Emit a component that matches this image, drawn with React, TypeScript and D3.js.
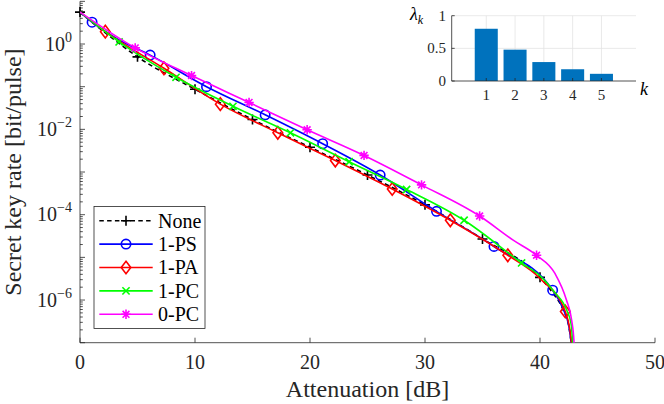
import React from 'react';
import * as d3 from 'd3';

const WIDTH = 664;
const HEIGHT = 404;
const FONT = '"Liberation Serif", "Times New Roman", serif';

// main axes box (pixels)
const M = { l: 80, r: 655, t: 1.35, b: 342.7 };

// attenuation [dB] / secret key rate [bit/pulse]
const noneAtt = [0, 1, 2.5, 5, 10, 15, 20, 25, 30, 35, 40, 41, 42, 42.5, 42.85];
const noneRate = [5.6, 3.3, 1.58, 0.5, 0.087, 0.017, 3.8e-3, 8.5e-4, 1.7e-4, 2.7e-5, 3.4e-6, 1.6e-6, 6.0e-7, 2.5e-7, 5e-8];
const noneMarks = [0, 5, 10, 15, 20, 25, 30, 35, 40];

const psAtt = [0, 1.05, 3.5, 6.1, 11, 16.1, 21.1, 26.1, 31, 36, 41.1, 42, 42.5, 42.85];
const psRate = [5.6, 3.24, 1.2, 0.55, 0.1, 0.0219, 4.6e-3, 8.5e-4, 1.2e-4, 1.8e-5, 1.7e-6, 6.3e-7, 2.5e-7, 5e-8];
const psMarks = [1.05, 6.1, 11, 16.1, 21.1, 26.1, 31, 36, 41.1];

const paAtt = [0, 2.2, 7.3, 12.2, 17.2, 22.2, 27.15, 32.2, 37.2, 40, 42.2, 42.6, 42.85];
const paRate = [5.6, 1.95, 0.27, 0.039, 8.3e-3, 1.86e-3, 4.0e-4, 7.4e-5, 1.12e-5, 3.2e-6, 5.4e-7, 2e-7, 5e-8];
const paMarks = [2.2, 7.3, 12.2, 17.2, 22.2, 27.15, 32.2, 37.2, 42.2];

const pcAtt = [0, 3.4, 8.35, 13.3, 18.3, 23.4, 28.4, 33.4, 38.4, 40.1, 41.25, 42.33, 42.7, 42.83, 42.9];
const pcRate = [5.6, 1.12, 0.166, 0.0347, 8.3e-3, 1.74e-3, 3.9e-4, 7.4e-5, 7.4e-6, 3.5e-6, 1.55e-6, 5.75e-7, 2.8e-7, 1e-7, 3e-8];
const pcMarks = [3.4, 8.35, 13.3, 18.3, 23.4, 28.4, 33.4, 38.4];

const zpcAtt = [0, 4.8, 9.7, 14.7, 19.75, 24.7, 29.7, 34.75, 37.7, 39.7, 41.3, 42.3, 42.75, 42.96, 43.02];
const zpcRate = [5.6, 0.81, 0.182, 0.0427, 9.8e-3, 2.45e-3, 5.0e-4, 9.3e-5, 2.5e-5, 1.12e-5, 4.2e-6, 1e-6, 3.4e-7, 1e-7, 3e-8];
const zpcMarks = [4.8, 9.7, 14.7, 19.75, 24.7, 29.7, 34.75, 39.7];

// inset: eigenvalues lambda_k
const lambdaK = [1, 2, 3, 4, 5];
const lambdaVal = [0.8, 0.48, 0.29, 0.18, 0.11];

const xTicks = [0, 10, 20, 30, 40, 50];
const yLabelExp = [0, -2, -4, -6];

type MarkerType = '+' | 'o' | 'd' | 'x' | '*';

const series = [
  { name: 'None', att: noneAtt, rate: noneRate, marks: noneMarks, color: '#000000', dash: '4.5 3.3', marker: '+' as MarkerType },
  { name: '1-PS', att: psAtt, rate: psRate, marks: psMarks, color: '#0000ff', dash: undefined, marker: 'o' as MarkerType },
  { name: '1-PA', att: paAtt, rate: paRate, marks: paMarks, color: '#ff0000', dash: undefined, marker: 'd' as MarkerType },
  { name: '1-PC', att: pcAtt, rate: pcRate, marks: pcMarks, color: '#00ff00', dash: undefined, marker: 'x' as MarkerType },
  { name: '0-PC', att: zpcAtt, rate: zpcRate, marks: zpcMarks, color: '#ff00ff', dash: undefined, marker: '*' as MarkerType },
];

const Marker = ({ type, x, y, color }: { type: MarkerType; x: number; y: number; color: string }) => {
  const sw = 1.6;
  if (type === 'o') return <circle cx={x} cy={y} r={4.7} fill="none" stroke={color} strokeWidth={sw} />;
  let d = '';
  if (type === '+') d = `M${x - 5},${y}H${x + 5}M${x},${y - 5}V${y + 5}`;
  if (type === 'd') d = `M${x},${y - 6.3}L${x + 4.8},${y}L${x},${y + 6.3}L${x - 4.8},${y}Z`;
  if (type === 'x') d = `M${x - 3.6},${y - 3.6}L${x + 3.6},${y + 3.6}M${x - 3.6},${y + 3.6}L${x + 3.6},${y - 3.6}`;
  if (type === '*') {
    const a = 3.4;
    d = `M${x - 4.7},${y}H${x + 4.7}M${x},${y - 4.7}V${y + 4.7}M${x - a},${y - a}L${x + a},${y + a}M${x - a},${y + a}L${x + a},${y - a}`;
  }
  return <path d={d} fill="none" stroke={color} strokeWidth={sw} />;
};

const App = () => {
  const xScale = d3.scaleLinear().domain([0, 50]).range([M.l, M.r]);
  const yScale = d3.scaleLog().domain([1e-7, 10]).range([M.b, M.t]);

  const line = d3
    .line<[number, number]>()
    .x((d) => xScale(d[0]))
    .y((d) => yScale(d[1]))
    .curve(d3.curveMonotoneX);

  // log ticks: major at each decade, minor 2..9
  const majors = d3.range(-7, 2).map((e) => 10 ** e);
  const minors: number[] = [];
  d3.range(-7, 1).forEach((e) => {
    for (let m = 2; m <= 9; m++) minors.push(m * 10 ** e);
  });

  // inset
  const ix = d3.scaleLinear().domain([-0.2, 6.2]).range([451.7, 636]);
  const iy = d3.scaleLinear().domain([0, 1]).range([81, 15.7]);
  const barW = ix(0.8) - ix(0);

  return (
    <svg
      width={WIDTH}
      height={HEIGHT}
      viewBox={`0 0 ${WIDTH} ${HEIGHT}`}
      style={{ position: 'absolute', left: 0, top: 0, background: '#fff', fontFamily: FONT }}
    >
      <defs>
        <clipPath id="plot-area">
          <rect x={M.l} y={M.t} width={M.r - M.l} height={M.b - M.t} />
        </clipPath>
      </defs>
      <rect x={0} y={0} width={WIDTH} height={HEIGHT} fill="#fff" />

      {/* axes */}
      <g stroke="#262626" strokeWidth={0.8} fill="none">
        <line x1={M.l} x2={M.r} y1={M.b} y2={M.b} />
        <line x1={M.l} x2={M.l} y1={M.t} y2={M.b} />
        {xTicks.map((t) => (
          <line key={`xt${t}`} x1={xScale(t)} x2={xScale(t)} y1={M.b} y2={M.b - 5} />
        ))}
        {majors.map((t) => (
          <line key={`ym${t}`} x1={M.l} x2={M.l + 5} y1={yScale(t)} y2={yScale(t)} />
        ))}
        {minors.map((t, i) => (
          <line key={`yn${i}`} x1={M.l} x2={M.l + 2.8} y1={yScale(t)} y2={yScale(t)} />
        ))}
      </g>
      <g fontSize={20} fill="#262626">
        {xTicks.map((t) => (
          <text key={`xl${t}`} x={xScale(t)} y={368.5} textAnchor="middle">
            {t}
          </text>
        ))}
        {yLabelExp.map((e) => (
          <text key={`yl${e}`} x={72} y={yScale(10 ** e) + 6.5} textAnchor="end">
            10
            <tspan dy={-9} fontSize={14}>
              {e === 0 ? '0' : `\u2212${-e}`}
            </tspan>
          </text>
        ))}
      </g>
      <text x={(M.l + M.r) / 2} y={397} textAnchor="middle" fontSize={24} fill="#262626">
        Attenuation [dB]
      </text>
      <text
        transform={`translate(21, ${(M.t + M.b) / 2}) rotate(-90)`}
        textAnchor="middle"
        fontSize={24}
        fill="#262626"
      >
        Secret key rate [bit/pulse]
      </text>

      {/* curves */}
      {series.map((s) => {
        const pts = s.att.map((a, i) => [a, s.rate[i]] as [number, number]);
        return (
          <g key={s.name}>
            <path
              d={line(pts) || ''}
              fill="none"
              stroke={s.color}
              strokeWidth={1.6}
              strokeDasharray={s.dash}
              clipPath="url(#plot-area)"
            />
            {pts
              .filter((p) => s.marks.includes(p[0]))
              .map((p, j) => (
                <Marker key={j} type={s.marker} x={xScale(p[0])} y={yScale(p[1])} color={s.color} />
              ))}
          </g>
        );
      })}

      {/* legend */}
      <g>
        <rect x={94} y={206.5} width={111} height={122} fill="#fff" stroke="#262626" strokeWidth={0.8} />
        {series.map((s, i) => {
          const y = 220.7 + i * 23.4;
          return (
            <g key={`lg${s.name}`}>
              <line x1={99.3} x2={152.7} y1={y} y2={y} stroke={s.color} strokeWidth={1.6} strokeDasharray={s.dash} />
              <Marker type={s.marker} x={126} y={y} color={s.color} />
              <text x={158} y={y + 6.8} fontSize={20} fill="#000">
                {s.name}
              </text>
            </g>
          );
        })}
      </g>

      {/* inset bar chart */}
      <g>
        <rect x={ix(-0.2)} y={iy(1)} width={ix(6.2) - ix(-0.2)} height={iy(0) - iy(1)} fill="#fff" />
        <g stroke="#e3e3e3" strokeWidth={0.8}>
          {lambdaK.map((k) => (
            <line key={`ig${k}`} x1={ix(k)} x2={ix(k)} y1={iy(0)} y2={iy(1)} />
          ))}
          {[0.5, 1].map((v) => (
            <line key={`ih${v}`} x1={ix(-0.2)} x2={ix(6.2)} y1={iy(v)} y2={iy(v)} />
          ))}
        </g>
        {lambdaK.map((k, i) => (
          <rect
            key={`b${k}`}
            x={ix(k) - barW / 2}
            y={iy(lambdaVal[i])}
            width={barW}
            height={iy(0) - iy(lambdaVal[i])}
            fill="#0072bd"
          />
        ))}
        <g stroke="#262626" strokeWidth={0.8}>
          <line x1={ix(-0.2)} x2={ix(6.2)} y1={iy(0)} y2={iy(0)} />
          <line x1={ix(-0.2)} x2={ix(-0.2)} y1={iy(0)} y2={iy(1)} />
          {lambdaK.map((k) => (
            <line key={`ixt${k}`} x1={ix(k)} x2={ix(k)} y1={iy(0)} y2={iy(0) - 3} />
          ))}
          {[0, 0.5, 1].map((v) => (
            <line key={`iyt${v}`} x1={ix(-0.2)} x2={ix(-0.2) + 3} y1={iy(v)} y2={iy(v)} />
          ))}
        </g>
        <g fontSize={15} fill="#262626">
          {lambdaK.map((k) => (
            <text key={`ixl${k}`} x={ix(k)} y={99.5} textAnchor="middle">
              {k}
            </text>
          ))}
          {[0, 0.5, 1].map((v) => (
            <text key={`iyl${v}`} x={446} y={iy(v) + 5} textAnchor="end">
              {v}
            </text>
          ))}
        </g>
        <text x={410} y={20} fontSize={18} fontStyle="italic" fill="#000">
          λ
          <tspan dy={4} fontSize={12}>
            k
          </tspan>
        </text>
        <text x={640} y={95} fontSize={18} fontStyle="italic" fill="#000">
          k
        </text>
      </g>
    </svg>
  );
};

export default App;
